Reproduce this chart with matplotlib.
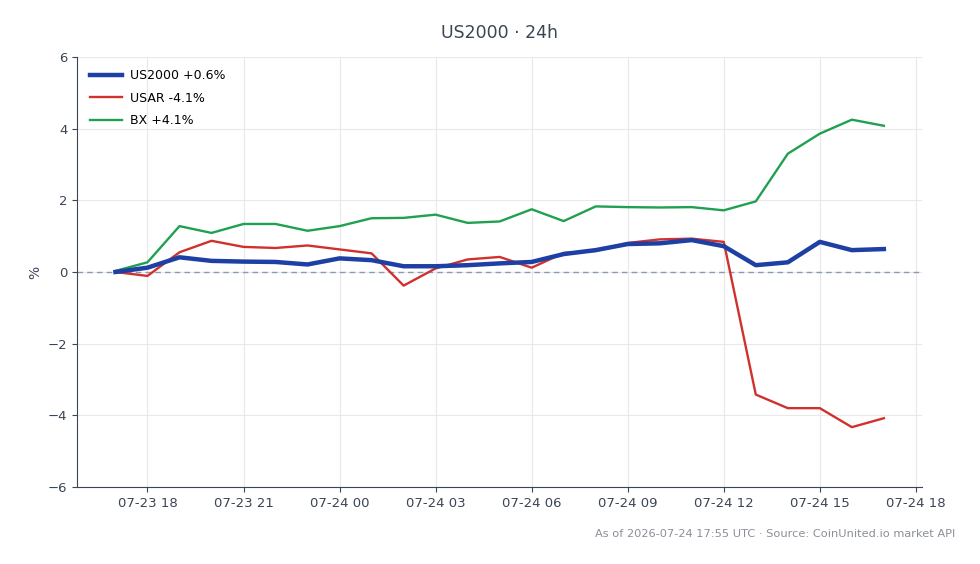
import numpy as np
import pandas as pd
import matplotlib
matplotlib.use("Agg")
import matplotlib.pyplot as plt
import matplotlib.dates as mdates

# hourly timestamps, 24h window
times = pd.date_range("2026-07-23 17:00", "2026-07-24 17:00", freq="h")

# % change from start
us2000 = [0.0, 0.12, 0.41, 0.31, 0.29, 0.28, 0.21, 0.38, 0.33, 0.16, 0.16, 0.19, 0.24,
          0.28, 0.50, 0.61, 0.78, 0.80, 0.89, 0.72, 0.19, 0.27, 0.84, 0.61, 0.64]
usar = [0.0, -0.11, 0.55, 0.87, 0.70, 0.67, 0.74, 0.63, 0.52, -0.38, 0.10, 0.35, 0.42,
        0.12, 0.53, 0.59, 0.81, 0.91, 0.93, 0.84, -3.42, -3.80, -3.80, -4.33, -4.08]
bx = [0.03, 0.27, 1.28, 1.09, 1.34, 1.34, 1.15, 1.28, 1.50, 1.51, 1.60, 1.37, 1.41,
      1.75, 1.42, 1.83, 1.81, 1.80, 1.81, 1.72, 1.97, 3.30, 3.86, 4.25, 4.08]

labels = ["US2000 +0.6%", "USAR -4.1%", "BX +4.1%"]
colors = ["#1e3fa3", "#d0312d", "#20a050"]

fig = plt.figure(figsize=(9.8, 5.64), dpi=100)
ax = fig.add_axes([0.0786, 0.1365, 0.8625, 0.7625])

ax.plot(times, us2000, color=colors[0], lw=3.2, label=labels[0], zorder=4)
ax.plot(times, usar, color=colors[1], lw=1.7, label=labels[1], zorder=3)
ax.plot(times, bx, color=colors[2], lw=1.7, label=labels[2], zorder=3)
ax.axhline(0, color="#8a9ab0", lw=1, ls=(0, (4, 3)), zorder=2)

ax.set_ylim(-6, 6)
ax.set_yticks(range(-6, 7, 2))
ax.xaxis.set_major_locator(mdates.HourLocator(byhour=range(0, 24, 3)))
ax.xaxis.set_major_formatter(mdates.DateFormatter("%m-%d %H"))

ax.grid(True, color="#e8e8ec", lw=0.8)
ax.set_axisbelow(True)
for s in ["top", "right"]:
    ax.spines[s].set_visible(False)
for s in ["left", "bottom"]:
    ax.spines[s].set_color("#3a4556")
ax.tick_params(colors="#3a4556", labelsize=9.5, labelcolor="#3a4556")
ax.set_ylabel("%", color="#3a4556", fontsize=10)

ax.set_title("US2000 · 24h", color="#3a4556", fontsize=12.5, pad=14)
ax.legend(loc="upper left", frameon=False, fontsize=9, handlelength=2.6,
          labelspacing=0.75, handletextpad=0.6, borderaxespad=0.6)

fig.text(0.975, 0.045, "As of 2026-07-24 17:55 UTC · Source: CoinUnited.io market API",
         ha="right", va="bottom", fontsize=8.2, color="#8a8f98")

fig.savefig("out.png", dpi=100)
